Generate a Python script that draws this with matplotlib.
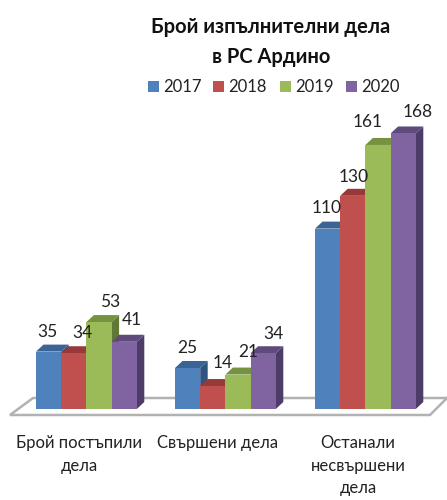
import numpy as np
import matplotlib.pyplot as plt

plt.rcParams['font.family'] = ['Lato', 'DejaVu Sans']

years = ['2017', '2018', '2019', '2020']
categories = ['Брой постъпили\nдела', 'Свършени дела', 'Останали\nнесвършени\nдела']
v2017 = [35, 25, 110]
v2018 = [34, 14, 130]
v2019 = [53, 21, 161]
v2020 = [41, 34, 168]

series = [v2017, v2018, v2019, v2020]
colors = ['#4F81BD', '#C0504D', '#9BBB59', '#8064A2']
tops = ['#3A6496', '#953A38', '#76913F', '#5F4A7C']
sides = ['#2F5480', '#7C302E', '#617834', '#4E3C68']

# scale: pixels per unit of value, baseline at pixel row 409
k = 1.64
base = 409
group_x = [36, 175, 315]
bar_w = 25.2
dx, dy = 7.5, 7 / k

# label nudges in pixels, per group and series (placed by hand in the original)
nudge_x = [[-1.5, 9, 11, 8], [-0.5, 10, 10, 10], [-0.5, 1, -10, 14]]
nudge_y = [[-19.5, -20, -20, -22], [-20, -23, -22.5, -19], [-20.5, -19, -23, -21.5]]

fig = plt.figure(figsize=(4.47, 5.0), dpi=100)
ax = fig.add_axes([0, 0, 1, 1])
ax.set_xlim(0, 447)
ax.set_ylim((base - 500) / k, base / k)
ax.axis('off')

# floor
floor = '#B2B2B2'
f0, f1 = -6 / k, 11 / k
ax.plot([447, 33, 10, 430, 447], [f1, f1, f0, f0, f1], color=floor, lw=1.8, zorder=1,
        solid_joinstyle='miter')

# bars with fake depth
for g, gx in enumerate(group_x):
    for s, vals in enumerate(series):
        v = vals[g]
        x = gx + s * bar_w
        ax.fill([x + bar_w, x + bar_w + dx, x + bar_w + dx, x + bar_w],
                [0, dy, v + dy, v], color=sides[s], lw=0, zorder=2 + s)
        ax.fill([x, x + dx, x + bar_w + dx, x + bar_w],
                [v, v + dy, v + dy, v], color=tops[s], lw=0, zorder=2 + s)
        ax.bar(x, v, width=bar_w, align='edge', color=colors[s], zorder=2 + s + 0.5)

# value labels
for g, gx in enumerate(group_x):
    for s, vals in enumerate(series):
        v = vals[g]
        x = gx + s * bar_w + bar_w / 2 + nudge_x[g][s]
        y = v - nudge_y[g][s] / k
        ax.text(x, y, str(v), fontsize=12.5, color='#222222', ha='center', va='center', zorder=10)

# category labels
label_x = [79, 218, 358]
for x, c in zip(label_x, categories):
    ax.text(x, -16, c, fontsize=12, color='#222222', ha='center', va='top', linespacing=1.5)

# title
ax.text(271, (base - 27) / k, 'Брой изпълнителни дела', fontsize=14.5, fontweight='bold',
        color='#111111', ha='center', va='center')
ax.text(271, (base - 57) / k, 'в РС Ардино', fontsize=14.5, fontweight='bold',
        color='#111111', ha='center', va='center')

# legend
for x, name, col in zip([148, 213, 280, 346], years, colors):
    ax.bar(x, 11 / k, width=11, bottom=(base - 92) / k, align='edge', color=col)
    ax.text(x + 15, (base - 87) / k, name, fontsize=12, color='#222222', ha='left', va='center')

fig.savefig('out.png', dpi=100)
